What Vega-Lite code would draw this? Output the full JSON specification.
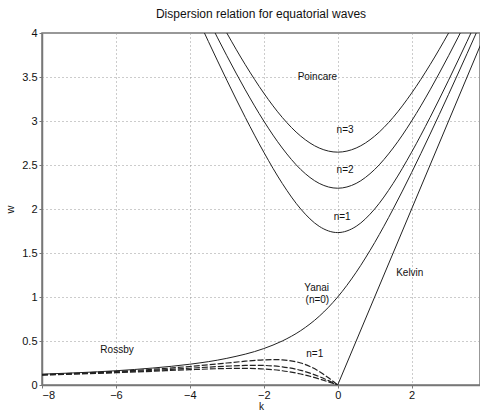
{
  "$schema": "https://vega.github.io/schema/vega-lite/v6.json",
  "width": 438,
  "height": 352,
  "autosize": {"type": "none"},
  "padding": {"left": 42, "top": 33, "right": 0, "bottom": 25},
  "background": "white",
  "title": {"text": "Dispersion relation for equatorial waves", "fontSize": 12, "font": "Liberation Sans", "fontWeight": "normal", "color": "#111", "offset": 6},
  "config": {
    "view": {"stroke": "#777", "strokeWidth": 1.5},
    "axis": {"labelFont": "Liberation Sans", "labelFontSize": 11, "labelColor": "#111", "titleFont": "Liberation Sans", "titleFontSize": 11, "titleFontWeight": "normal", "titleColor": "#111", "domainColor": "#777", "domainWidth": 1.5, "gridColor": "#999", "gridDash": [1, 3], "gridWidth": 1, "tickColor": "#777", "tickSize": 3}
  },
  "datasets": {
    "curves": [
      {"series": "P1", "k": -4, "w": 4.359}, {"series": "P1", "k": -3.5, "w": 3.905}, {"series": "P1", "k": -3, "w": 3.464}, {"series": "P1", "k": -2.5, "w": 3.041}, {"series": "P1", "k": -2, "w": 2.646}, {"series": "P1", "k": -1.5, "w": 2.291}, {"series": "P1", "k": -1, "w": 2.0}, {"series": "P1", "k": -0.5, "w": 1.803}, {"series": "P1", "k": 0, "w": 1.732}, {"series": "P1", "k": 0.5, "w": 1.803}, {"series": "P1", "k": 1, "w": 2.0}, {"series": "P1", "k": 1.5, "w": 2.291}, {"series": "P1", "k": 2, "w": 2.646}, {"series": "P1", "k": 2.5, "w": 3.041}, {"series": "P1", "k": 3, "w": 3.464}, {"series": "P1", "k": 3.5, "w": 3.905}, {"series": "P1", "k": 4, "w": 4.359},
      {"series": "P2", "k": -4, "w": 4.583}, {"series": "P2", "k": -3.5, "w": 4.153}, {"series": "P2", "k": -3, "w": 3.742}, {"series": "P2", "k": -2.5, "w": 3.354}, {"series": "P2", "k": -2, "w": 3.0}, {"series": "P2", "k": -1.5, "w": 2.693}, {"series": "P2", "k": -1, "w": 2.449}, {"series": "P2", "k": -0.5, "w": 2.291}, {"series": "P2", "k": 0, "w": 2.236}, {"series": "P2", "k": 0.5, "w": 2.291}, {"series": "P2", "k": 1, "w": 2.449}, {"series": "P2", "k": 1.5, "w": 2.693}, {"series": "P2", "k": 2, "w": 3.0}, {"series": "P2", "k": 2.5, "w": 3.354}, {"series": "P2", "k": 3, "w": 3.742}, {"series": "P2", "k": 3.5, "w": 4.153}, {"series": "P2", "k": 4, "w": 4.583},
      {"series": "P3", "k": -4, "w": 4.796}, {"series": "P3", "k": -3.5, "w": 4.387}, {"series": "P3", "k": -3, "w": 4.0}, {"series": "P3", "k": -2.5, "w": 3.64}, {"series": "P3", "k": -2, "w": 3.317}, {"series": "P3", "k": -1.5, "w": 3.041}, {"series": "P3", "k": -1, "w": 2.828}, {"series": "P3", "k": -0.5, "w": 2.693}, {"series": "P3", "k": 0, "w": 2.646}, {"series": "P3", "k": 0.5, "w": 2.693}, {"series": "P3", "k": 1, "w": 2.828}, {"series": "P3", "k": 1.5, "w": 3.041}, {"series": "P3", "k": 2, "w": 3.317}, {"series": "P3", "k": 2.5, "w": 3.64}, {"series": "P3", "k": 3, "w": 4.0}, {"series": "P3", "k": 3.5, "w": 4.387}, {"series": "P3", "k": 4, "w": 4.796},
      {"series": "Yanai", "k": -8, "w": 0.123}, {"series": "Yanai", "k": -7, "w": 0.14}, {"series": "Yanai", "k": -6, "w": 0.162}, {"series": "Yanai", "k": -5, "w": 0.193}, {"series": "Yanai", "k": -4, "w": 0.236}, {"series": "Yanai", "k": -3, "w": 0.303}, {"series": "Yanai", "k": -2, "w": 0.414}, {"series": "Yanai", "k": -1.5, "w": 0.5}, {"series": "Yanai", "k": -1, "w": 0.618}, {"series": "Yanai", "k": -0.5, "w": 0.781}, {"series": "Yanai", "k": 0, "w": 1.0}, {"series": "Yanai", "k": 0.5, "w": 1.281}, {"series": "Yanai", "k": 1, "w": 1.618}, {"series": "Yanai", "k": 1.5, "w": 2.0}, {"series": "Yanai", "k": 2, "w": 2.414}, {"series": "Yanai", "k": 2.5, "w": 2.851}, {"series": "Yanai", "k": 3, "w": 3.303}, {"series": "Yanai", "k": 3.5, "w": 3.766}, {"series": "Yanai", "k": 4, "w": 4.236},
      {"series": "Kelvin", "k": 0, "w": 0}, {"series": "Kelvin", "k": 4.2, "w": 4.2},
      {"series": "R1", "k": -8, "w": 0.1194}, {"series": "R1", "k": -7, "w": 0.1346}, {"series": "R1", "k": -6, "w": 0.1538}, {"series": "R1", "k": -5, "w": 0.1786}, {"series": "R1", "k": -4, "w": 0.2105}, {"series": "R1", "k": -3, "w": 0.25}, {"series": "R1", "k": -2.5, "w": 0.2703}, {"series": "R1", "k": -2, "w": 0.2857}, {"series": "R1", "k": -1.732, "w": 0.2887}, {"series": "R1", "k": -1.5, "w": 0.2857}, {"series": "R1", "k": -1, "w": 0.25}, {"series": "R1", "k": -0.75, "w": 0.2105}, {"series": "R1", "k": -0.5, "w": 0.1538}, {"series": "R1", "k": -0.25, "w": 0.0816}, {"series": "R1", "k": 0, "w": 0},
      {"series": "R2", "k": -8, "w": 0.1159}, {"series": "R2", "k": -7, "w": 0.1296}, {"series": "R2", "k": -6, "w": 0.1463}, {"series": "R2", "k": -5, "w": 0.1667}, {"series": "R2", "k": -4, "w": 0.1905}, {"series": "R2", "k": -3, "w": 0.2143}, {"series": "R2", "k": -2.5, "w": 0.2222}, {"series": "R2", "k": -2.236, "w": 0.2236}, {"series": "R2", "k": -2, "w": 0.2222}, {"series": "R2", "k": -1.5, "w": 0.2069}, {"series": "R2", "k": -1, "w": 0.1667}, {"series": "R2", "k": -0.75, "w": 0.1348}, {"series": "R2", "k": -0.5, "w": 0.0952}, {"series": "R2", "k": -0.25, "w": 0.0494}, {"series": "R2", "k": 0, "w": 0},
      {"series": "R3", "k": -8, "w": 0.1127}, {"series": "R3", "k": -7, "w": 0.125}, {"series": "R3", "k": -6, "w": 0.1395}, {"series": "R3", "k": -5, "w": 0.1563}, {"series": "R3", "k": -4, "w": 0.1739}, {"series": "R3", "k": -3, "w": 0.1875}, {"series": "R3", "k": -2.646, "w": 0.189}, {"series": "R3", "k": -2.5, "w": 0.1887}, {"series": "R3", "k": -2, "w": 0.1818}, {"series": "R3", "k": -1.5, "w": 0.1622}, {"series": "R3", "k": -1, "w": 0.125}, {"series": "R3", "k": -0.75, "w": 0.0992}, {"series": "R3", "k": -0.5, "w": 0.069}, {"series": "R3", "k": -0.25, "w": 0.0354}, {"series": "R3", "k": 0, "w": 0}
    ],
    "labels": [
      {"label": "Poincare", "k": -0.55, "w": 3.5},
      {"label": "n=3", "k": 0.2, "w": 2.9},
      {"label": "n=2", "k": 0.2, "w": 2.44},
      {"label": "n=1", "k": 0.12, "w": 1.91},
      {"label": "Yanai", "k": -0.57, "w": 1.1},
      {"label": "(n=0)", "k": -0.55, "w": 0.97},
      {"label": "Kelvin", "k": 1.95, "w": 1.27},
      {"label": "Rossby", "k": -5.97, "w": 0.4},
      {"label": "n=1", "k": -0.62, "w": 0.35}
    ]
  },
  "layer": [
    {
      "data": {"name": "curves"},
      "transform": [{"filter": "datum.series[0] != 'R'"}],
      "mark": {"type": "line", "interpolate": "monotone", "clip": true, "color": "#222", "strokeWidth": 1},
      "encoding": {
        "x": {"field": "k", "type": "quantitative", "scale": {"domain": [-8, 3.85], "nice": false, "zero": false}, "axis": {"values": [-8, -6, -4, -2, 0, 2], "title": "k", "titlePadding": 1, "titleFontSize": 10, "labelPadding": 1}},
        "y": {"field": "w", "type": "quantitative", "scale": {"domain": [0, 4], "nice": false}, "axis": {"values": [0, 0.5, 1, 1.5, 2, 2.5, 3, 3.5, 4], "format": "~g", "title": "w", "titlePadding": 6, "labelPadding": 2}},
        "detail": {"field": "series"}
      }
    },
    {
      "data": {"name": "curves"},
      "transform": [{"filter": "datum.series[0] == 'R'"}],
      "mark": {"type": "line", "interpolate": "monotone", "clip": true, "color": "#222", "strokeWidth": 1.2, "strokeDash": [6, 2]},
      "encoding": {
        "x": {"field": "k", "type": "quantitative"},
        "y": {"field": "w", "type": "quantitative"},
        "detail": {"field": "series"}
      }
    },
    {
      "data": {"name": "labels"},
      "mark": {"type": "text", "font": "Liberation Sans", "fontSize": 10, "color": "#111"},
      "encoding": {
        "x": {"field": "k", "type": "quantitative"},
        "y": {"field": "w", "type": "quantitative"},
        "text": {"field": "label"}
      }
    }
  ]
}
